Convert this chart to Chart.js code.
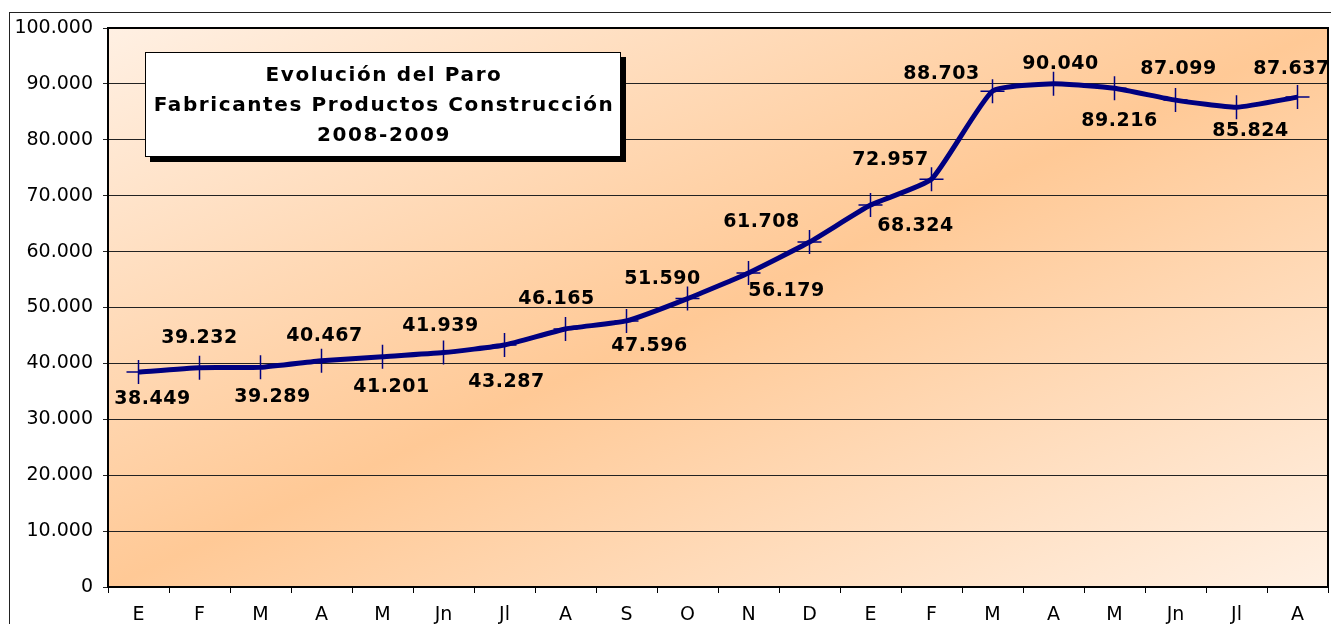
<!DOCTYPE html>
<html>
<head>
<meta charset="utf-8">
<script src="https://cdn.jsdelivr.net/npm/chart.js@4"></script>
<style>
  body { margin: 0; background: #fff; }
  #chart { display: block; }
</style>
</head>
<body>
<canvas id="chart" width="1331" height="624"></canvas>
<script>
// datos: paro registrado, enero 2008 - agosto 2009
const meses = ['E', 'F', 'M', 'A', 'M', 'Jn', 'Jl', 'A', 'S', 'O', 'N', 'D', 'E', 'F', 'M', 'A', 'M', 'Jn', 'Jl', 'A'];
const paro = [38449, 39232, 39289, 40467, 41201, 41939, 43287, 46165, 47596, 51590, 56179, 61708, 68324, 72957, 88703, 90040, 89216, 87099, 85824, 87637];
const yMax = 100000;
const yStep = 10000;
const titulo = ['Evolución del Paro', 'Fabricantes Productos Construcción', '2008-2009'];

// desplazamiento de cada etiqueta respecto a su punto (px)
const labelShift = [[14, 27], [0, -30], [12, 30], [3, -25], [9, 30], [-3, -26], [2, 37], [-9, -30], [23, 25], [-25, -20],
  [38, 18], [-48, -20], [45, 21], [-41, -19], [-51, -17], [7, -20], [5, 33], [3, -31], [14, 24], [-6, -28]];

const FONT = '"DejaVu Sans", Verdana, sans-serif';
const NAVY = '#000080';

function miles(v) {
  return String(v).replace(/\B(?=(\d{3})+(?!\d))/g, '.');
}

const fondo = {
  id: 'fondo',
  beforeDraw(chart) {
    const ctx = chart.ctx;
    const a = chart.chartArea;
    ctx.save();
    ctx.fillStyle = '#fff';
    ctx.fillRect(0, 0, chart.width, chart.height);
    // marco exterior
    ctx.strokeStyle = '#222';
    ctx.lineWidth = 1;
    ctx.strokeRect(9.5, 12.5, chart.width + 20, chart.height + 20);
    // degradado diagonal del área de trazado
    const W = a.right - a.left, H = a.bottom - a.top;
    const cx = (a.left + a.right) / 2, cy = (a.top + a.bottom) / 2;
    const s = W * H / (W * W + H * H);
    const g = ctx.createLinearGradient(cx - s * H, cy - s * W, cx + s * H, cy + s * W);
    g.addColorStop(0, '#fff0e3');
    g.addColorStop(0.5, '#ffc996');
    g.addColorStop(1, '#fff0e3');
    ctx.fillStyle = g;
    ctx.fillRect(a.left, a.top, W, H);
    ctx.restore();
  },
  beforeDatasetsDraw(chart) {
    const ctx = chart.ctx;
    const a = chart.chartArea;
    ctx.save();
    ctx.strokeStyle = '#000';
    ctx.lineWidth = 2;
    ctx.strokeRect(a.left, a.top, a.right - a.left, a.bottom - a.top);
    ctx.restore();
  }
};

const etiquetas = {
  id: 'etiquetas',
  afterDatasetsDraw(chart) {
    const ctx = chart.ctx;
    const meta = chart.getDatasetMeta(0);
    ctx.save();
    ctx.font = 'bold 19px ' + FONT;
    ctx.letterSpacing = '0.5px';
    ctx.fillStyle = '#000';
    ctx.textAlign = 'center';
    ctx.textBaseline = 'middle';
    meta.data.forEach((pt, i) => {
      const d = labelShift[i];
      ctx.fillText(miles(paro[i]), pt.x + d[0], pt.y + d[1]);
    });
    ctx.restore();
  },
  afterDraw(chart) {
    const ctx = chart.ctx;
    const x = 145, y = 52, w = 476, h = 105;
    ctx.save();
    ctx.fillStyle = '#000';
    ctx.fillRect(x + 5, y + 5, w, h);
    ctx.fillStyle = '#fff';
    ctx.fillRect(x, y, w, h);
    ctx.strokeStyle = '#000';
    ctx.lineWidth = 1;
    ctx.strokeRect(x + 0.5, y + 0.5, w - 1, h - 1);
    ctx.font = 'bold 20px ' + FONT;
    ctx.letterSpacing = '1.6px';
    ctx.fillStyle = '#000';
    ctx.textAlign = 'center';
    ctx.textBaseline = 'middle';
    titulo.forEach((t, i) => ctx.fillText(t, x + w / 2 + 1, y + 24 + i * 30));
    ctx.restore();
  }
};

new Chart(document.getElementById('chart'), {
  type: 'line',
  data: {
    labels: meses,
    datasets: [{
      data: paro,
      borderColor: NAVY,
      borderWidth: 5,
      tension: 0.15,
      pointStyle: 'cross',
      pointRadius: 12,
      pointBorderWidth: 1.5,
      pointBorderColor: NAVY,
      pointBackgroundColor: NAVY,
      clip: false
    }]
  },
  options: {
    responsive: false,
    animation: false,
    devicePixelRatio: 1,
    layout: { autoPadding: false, padding: { left: 0, top: 28, right: 3, bottom: 0 } },
    plugins: { legend: { display: false }, tooltip: { enabled: false }, title: { display: false } },
    scales: {
      x: {
        offset: true,
        grid: { offset: true, drawOnChartArea: false, tickLength: 6, color: '#000', lineWidth: 1 },
        border: { display: false },
        ticks: { color: '#000', font: { family: FONT, size: 19 }, padding: 11, maxRotation: 0, autoSkip: false },
        afterFit(scale) {
          scale.height = 37;
          scale.paddingLeft = 0;
          scale.paddingRight = 0;
        }
      },
      y: {
        min: 0,
        max: yMax,
        grid: { color: '#222', lineWidth: 1, tickLength: 5 },
        border: { display: false },
        ticks: {
          stepSize: yStep,
          color: '#000',
          font: { family: FONT, size: 19 },
          padding: 10,
          callback: v => miles(v)
        },
        afterFit(scale) {
          scale.width = 108;
          scale.paddingTop = 0;
          scale.paddingBottom = 0;
        }
      }
    }
  },
  plugins: [fondo, etiquetas]
});
</script>
</body>
</html>
